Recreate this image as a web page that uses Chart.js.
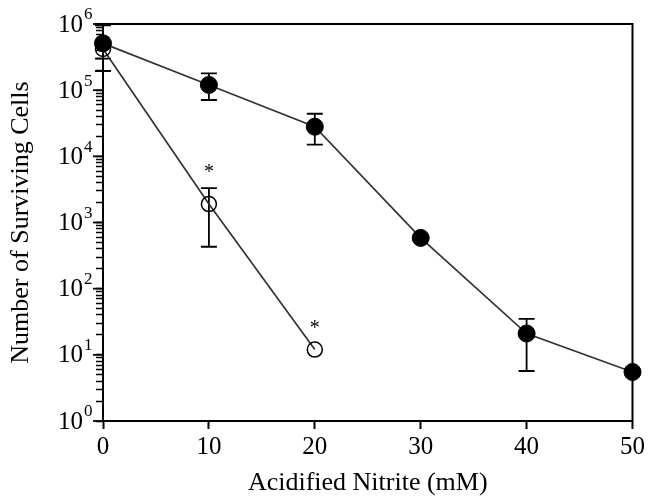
<!DOCTYPE html>
<html>
<head>
<meta charset="utf-8">
<script src="https://cdn.jsdelivr.net/npm/chart.js@4"></script>
<style>
html, body { margin: 0; padding: 0; background: #fff; }
#wrap { width: 648px; height: 499px; }
</style>
</head>
<body>
<div id="wrap"><canvas id="survivalcanvas" width="648" height="499"></canvas></div>
<script>
// x values (mM acidified nitrite)
const nitrite = [0, 10, 20, 30, 40, 50];
// filled circles
const controlCells = [510000, 120000, 28000, 585, 21, 5.5];
const controlHigh = [950000, 180000, 44000, null, 35, null];
const controlLow = [195000, 71000, 15000, null, 5.7, null];
// open circles
const treatedX = [0, 10, 20];
const treatedCells = [420000, 1900, 12];
const treatedHigh = [1000000, 3300, null];
const treatedLow = [300000, 430, null];
// asterisks (significance marks)
const starX = [10, 20];
const starY = [6500, 28];
// axis ticks
const xTicks = [0, 10, 20, 30, 40, 50];
const yExponents = [0, 1, 2, 3, 4, 5, 6];

const serif = '"Liberation Serif", "Times New Roman", serif';
Chart.defaults.font.family = serif;
Chart.defaults.color = '#000';

// error bars under the markers
const errorBarPlugin = {
    id: 'errorBars',
    beforeDatasetsDraw(chart) {
        let ctx = chart.ctx;
        let xs = chart.scales.x, ys = chart.scales.y;
        function drawBars(xv, hi, lo) {
            for (let i = 0; i < xv.length; i++) {
                if (hi[i] == null) continue;
                let px = xs.getPixelForValue(xv[i]);
                let pHi = ys.getPixelForValue(hi[i]);
                let pLo = ys.getPixelForValue(lo[i]);
                ctx.beginPath();
                ctx.moveTo(px, pHi); ctx.lineTo(px, pLo);
                ctx.moveTo(px - 8, pHi); ctx.lineTo(px + 8, pHi);
                ctx.moveTo(px - 8, pLo); ctx.lineTo(px + 8, pLo);
                ctx.stroke();
            }
        }
        ctx.save();
        ctx.strokeStyle = '#000';
        ctx.lineWidth = 1.8;
        drawBars(nitrite, controlHigh, controlLow);
        drawBars(treatedX, treatedHigh, treatedLow);
        ctx.restore();
    }
};

// frame, y labels with superscripts, asterisks
const decorPlugin = {
    id: 'decor',
    afterDraw(chart) {
        let ctx = chart.ctx;
        let a = chart.chartArea;
        let xs = chart.scales.x, ys = chart.scales.y;
        ctx.save();
        ctx.strokeStyle = '#000';
        ctx.lineWidth = 2;
        ctx.lineCap = 'square';
        ctx.beginPath();
        ctx.moveTo(a.left, a.top); ctx.lineTo(a.right, a.top); ctx.lineTo(a.right, a.bottom);
        ctx.stroke();

        // longer ticks at the decades
        ctx.lineWidth = 1.8;
        ctx.lineCap = 'butt';
        yExponents.forEach(function(e) {
            let py = ys.getPixelForValue(Math.pow(10, e));
            ctx.beginPath();
            ctx.moveTo(a.left - 10, py); ctx.lineTo(a.left, py);
            ctx.stroke();
        });

        ctx.fillStyle = '#000';
        ctx.textBaseline = 'middle';
        yExponents.forEach(function(e) {
            let py = ys.getPixelForValue(Math.pow(10, e));
            ctx.font = '25px ' + serif;
            ctx.textAlign = 'right';
            ctx.fillText('10', a.left - 20, py + 1);
            ctx.font = '17px ' + serif;
            ctx.textAlign = 'left';
            ctx.fillText(String(e), a.left - 19, py - 9);
        });

        ctx.font = '20px ' + serif;
        ctx.textAlign = 'center';
        for (let i = 0; i < starX.length; i++) {
            ctx.fillText('*', xs.getPixelForValue(starX[i]), ys.getPixelForValue(starY[i]) + 4);
        }
        ctx.restore();
    }
};

let Canvas = document.getElementById('survivalcanvas').getContext('2d');
let survivalChart = new Chart(Canvas, {
    type: 'line',
    data: {
        datasets: [{
            label: 'Filled',
            data: nitrite.map((x, i) => ({ x: x, y: controlCells[i] })),
            borderColor: '#333',
            borderWidth: 1.7,
            pointRadius: 8.5,
            pointBackgroundColor: '#000',
            pointBorderColor: '#000',
            pointBorderWidth: 1,
            clip: false
        }, {
            label: 'Open',
            data: treatedX.map((x, i) => ({ x: x, y: treatedCells[i] })),
            borderColor: '#333',
            borderWidth: 1.7,
            pointRadius: 7.5,
            pointBackgroundColor: 'rgba(0,0,0,0)',
            pointBorderColor: '#000',
            pointBorderWidth: 1.5,
            clip: false
        }]
    },
    options: {
        responsive: false,
        animation: false,
        devicePixelRatio: 1,
        layout: { padding: { top: 24, right: 15, left: 0, bottom: 0 } },
        plugins: { legend: { display: false }, tooltip: { enabled: false } },
        scales: {
            x: {
                type: 'linear',
                min: 0,
                max: 50,
                afterBuildTicks: s => { s.ticks = xTicks.map(v => ({ value: v })); },
                afterFit: s => { s.height = 78; },
                grid: { drawOnChartArea: false, tickLength: 8, tickWidth: 2, color: '#000' },
                border: { color: '#000', width: 2 },
                ticks: { font: { size: 25 }, color: '#000', padding: 3 },
                title: {
                    display: true,
                    text: 'Acidified Nitrite (mM)',
                    font: { size: 26 },
                    color: '#000',
                    padding: { top: 0, bottom: 0 }
                }
            },
            y: {
                type: 'logarithmic',
                min: 1,
                max: 1000000,
                afterBuildTicks: s => {
                    let t = [];
                    for (let e = 0; e < 6; e++) {
                        for (let m = 1; m <= 9; m++) t.push({ value: m * Math.pow(10, e) });
                    }
                    t.push({ value: 1000000 });
                    s.ticks = t;
                },
                afterFit: s => { s.width = 103; },
                grid: { drawOnChartArea: false, tickLength: 7, tickWidth: 1.5, color: '#000' },
                border: { color: '#000', width: 2 },
                ticks: { autoSkip: false, callback: () => '' },
                title: {
                    display: true,
                    text: 'Number of Surviving Cells',
                    font: { size: 26 },
                    color: '#000',
                    padding: { top: 6, bottom: 0 }
                }
            }
        }
    },
    plugins: [errorBarPlugin, decorPlugin]
});
</script>
</body>
</html>
